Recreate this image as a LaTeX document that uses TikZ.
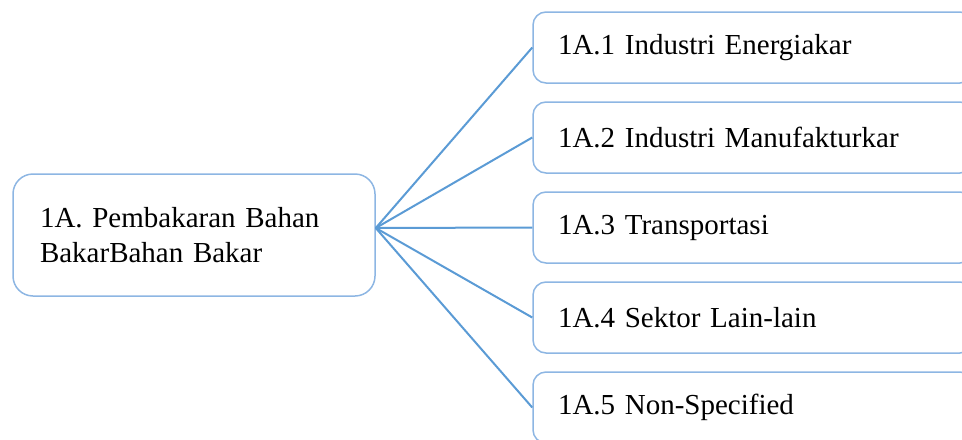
\documentclass[tikz,border=0pt]{standalone}
\usepackage{fontspec}
\setmainfont{Liberation Serif}

\definecolor{linkblue}{RGB}{91,155,213}
\definecolor{boxblue}{RGB}{141,182,227}

\tikzset{
	mainbox/.style={draw=boxblue,line width=0.75pt,rounded corners=10pt,
		minimum width=181pt,minimum height=61pt,inner xsep=13.5pt,inner ysep=0pt,
		text width=154pt,align=left,font=\fontsize{14.5}{17.5}\selectfont},
	subbox/.style={draw=boxblue,line width=0.75pt,rounded corners=6.5pt,
		minimum width=220pt,minimum height=35.5pt,inner xsep=12.5pt,inner ysep=0pt,
		text width=195pt,align=left,font=\fontsize{14.5}{17.5}\selectfont},
	link/.style={draw=linkblue,line width=1pt}
}

\begin{document}
\begin{tikzpicture}[x=0.5pt,y=-0.5pt]

\useasboundingbox (0,0) rectangle (962,439);
\clip (0,0) rectangle (962,439);

% The main box
\node[mainbox] (fuel) at (194,235) {1A. Pembakaran Bahan\\BakarBahan Bakar};
\coordinate (hub) at ([yshift=3.5pt]fuel.east);

% The sub boxes
\foreach \idx/\txt in {1/1A.1 Industri Energiakar,
                       2/1A.2 Industri Manufakturkar,
                       3/1A.3 Transportasi,
                       4/1A.4 Sektor Lain-lain,
                       5/1A.5 Non-Specified}
{
	\node[subbox] (sub\idx) at (753,{47.5+90*(\idx-1)}) {\txt};
	\draw[link] (hub) -- (sub\idx.west);
}

\end{tikzpicture}
\end{document}
